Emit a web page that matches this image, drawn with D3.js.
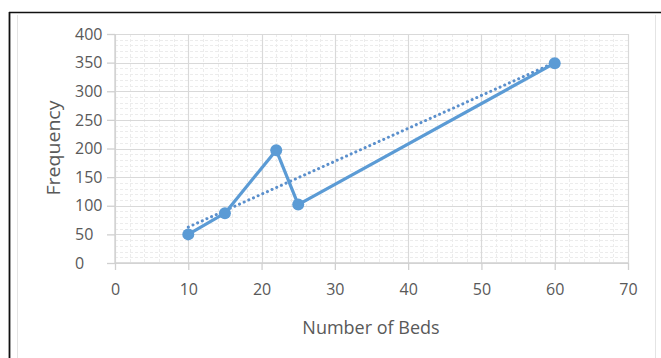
<!DOCTYPE html>
<html><head><meta charset="utf-8">
<script src="https://cdn.jsdelivr.net/npm/d3@7"></script>
<style>
html,body{margin:0;padding:0;background:#fff;}
svg{display:block;}
</style></head>
<body>
<script>
const beds = [10, 15, 22, 25, 60];
const frequency = [50, 87, 197, 102, 349];
const xTicks = [0, 10, 20, 30, 40, 50, 60, 70];
const yTicks = [0, 50, 100, 150, 200, 250, 300, 350, 400];
const xTitle = "Number of Beds";
const yTitle = "Frequency";

const W = 661, H = 358;
const svg = d3.select("body").append("svg").attr("width", W).attr("height", H);

// frame
svg.append("line").attr("x1", 9).attr("x2", W).attr("y1", 12.5).attr("y2", 12.5).attr("stroke", "#111").attr("stroke-width", 1.6);
svg.append("line").attr("x1", 9.5).attr("x2", 9.5).attr("y1", 12).attr("y2", H).attr("stroke", "#111").attr("stroke-width", 1.8);
svg.append("line").attr("x1", 17.5).attr("x2", 17.5).attr("y1", 15).attr("y2", H).attr("stroke", "#e4e4e4").attr("stroke-width", 1);
svg.append("line").attr("x1", 655.5).attr("x2", 655.5).attr("y1", 15).attr("y2", H).attr("stroke", "#e4e4e4").attr("stroke-width", 1);

const x = d3.scaleLinear().domain([0, 70]).range([115, 628]);
const y = d3.scaleLinear().domain([0, 400]).range([263, 34]);

const g = svg.append("g");
// minor grid
const xMinor = d3.range(0, 70.001, 2);
const yMinor = d3.range(0, 400.001, 10);
g.selectAll(".vminor").data(xMinor).join("line")
  .attr("x1", d => Math.round(x(d)) + 0.5).attr("x2", d => Math.round(x(d)) + 0.5)
  .attr("y1", y(400)).attr("y2", y(0))
  .attr("stroke", "#ececec").attr("stroke-width", 1).attr("stroke-dasharray", "3,2");
g.selectAll(".hminor").data(yMinor).join("line")
  .attr("y1", d => Math.round(y(d)) + 0.5).attr("y2", d => Math.round(y(d)) + 0.5)
  .attr("x1", x(0)).attr("x2", x(70))
  .attr("stroke", "#ececec").attr("stroke-width", 1).attr("stroke-dasharray", "3,2");
// major grid
g.selectAll(".vmajor").data(xTicks).join("line")
  .attr("x1", d => Math.round(x(d)) + 0.5).attr("x2", d => Math.round(x(d)) + 0.5)
  .attr("y1", y(400)).attr("y2", y(0))
  .attr("stroke", "#d9d9d9").attr("stroke-width", 1.2);
g.selectAll(".hmajor").data(yTicks).join("line")
  .attr("y1", d => Math.round(y(d)) + 0.5).attr("y2", d => Math.round(y(d)) + 0.5)
  .attr("x1", x(0)).attr("x2", x(70))
  .attr("stroke", "#d9d9d9").attr("stroke-width", 1.2);

// axes
const xAxis = d3.axisBottom(x).tickValues(xTicks).tickSize(7).tickPadding(14);
const yAxis = d3.axisLeft(y).tickValues(yTicks).tickSize(8).tickPadding(3);
const font = "'Open Sans', sans-serif";
const ax = svg.append("g").attr("transform", `translate(0,${y(0)})`).call(xAxis);
const ay = svg.append("g").attr("transform", `translate(${x(0)},0)`).call(yAxis);
[ax, ay].forEach(a => {
  a.select(".domain").attr("stroke", "#d0d0d0").attr("stroke-width", 1.3);
  a.selectAll(".tick line").attr("stroke", "#d0d0d0").attr("stroke-width", 1.3);
  a.selectAll(".tick text").attr("fill", "#595959").style("font-family", font).style("font-size", "16px");
});
ay.selectAll(".tick text").attr("text-anchor", "start").attr("x", 75 - x(0));
ax.select(".domain").attr("d", `M${x(0)},0H${x(70)}`);
ay.select(".domain").attr("d", `M0,${y(400)}V${y(0)}`);

// titles
svg.append("text").attr("x", 371).attr("y", 334).attr("text-anchor", "middle")
  .attr("fill", "#595959").style("font-family", font).style("font-size", "18px").text(xTitle);
svg.append("text").attr("transform", `translate(60,148) rotate(-90)`).attr("text-anchor", "middle")
  .attr("textLength", 95).attr("lengthAdjust", "spacingAndGlyphs")
  .attr("fill", "#595959").style("font-family", font).style("font-size", "18px").text(yTitle);

// trendline (least squares from data)
const data = beds.map((b, i) => ({x: b, y: frequency[i]}));
const mx = d3.mean(beds), my = d3.mean(frequency);
const slope = d3.sum(data, d => (d.x - mx) * (d.y - my)) / d3.sum(data, d => (d.x - mx) ** 2);
const icpt = my - slope * mx;
const tx = d3.extent(beds);
svg.append("line")
  .attr("x1", x(tx[0])).attr("y1", y(icpt + slope * tx[0]))
  .attr("x2", x(tx[1])).attr("y2", y(icpt + slope * tx[1]))
  .attr("stroke", "#5a8fcc").attr("stroke-width", 3).attr("stroke-dasharray", "0.1,5").attr("stroke-linecap", "round");

// series line
const line = d3.line().x(d => x(d.x)).y(d => y(d.y));
svg.append("path").datum(data).attr("d", line).attr("fill", "none")
  .attr("stroke", "#5B9BD5").attr("stroke-width", 3.2).attr("stroke-linejoin", "round");
svg.selectAll(".pt").data(data).join("circle")
  .attr("cx", d => x(d.x)).attr("cy", d => y(d.y)).attr("r", 6).attr("fill", "#5B9BD5");
</script>
</body></html>
